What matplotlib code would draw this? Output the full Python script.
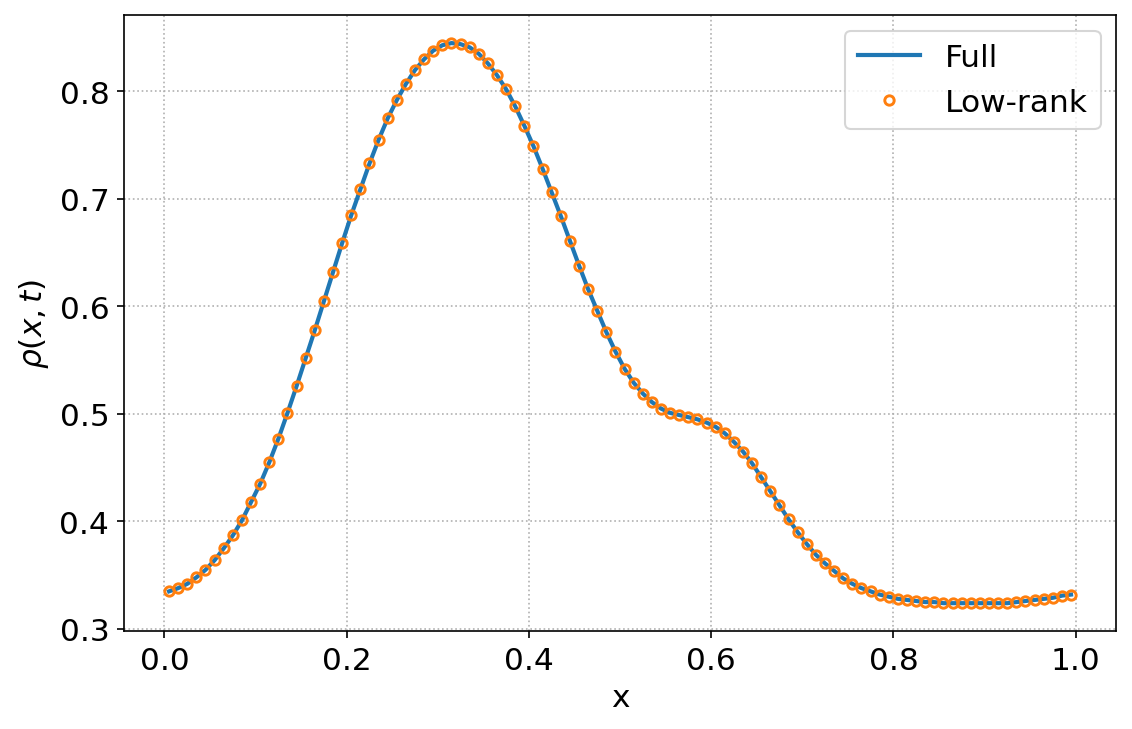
import numpy as np
import matplotlib
matplotlib.use('Agg')
import matplotlib.pyplot as plt

# grid points (cell centres) and density values
x = np.arange(100) * 0.01 + 0.005
rho = [
    0.335, 0.338, 0.342, 0.348, 0.355, 0.364, 0.375, 0.387, 0.401, 0.418,
    0.435, 0.455, 0.477, 0.501, 0.526, 0.552, 0.578, 0.605, 0.632, 0.659,
    0.685, 0.709, 0.733, 0.755, 0.775, 0.792, 0.807, 0.820, 0.830, 0.838,
    0.843, 0.845, 0.844, 0.841, 0.835, 0.826, 0.815, 0.802, 0.786, 0.768,
    0.749, 0.728, 0.706, 0.684, 0.661, 0.638, 0.616, 0.596, 0.576, 0.558,
    0.542, 0.529, 0.519, 0.511, 0.505, 0.501, 0.499, 0.497, 0.495, 0.492,
    0.488, 0.482, 0.474, 0.465, 0.454, 0.441, 0.428, 0.415, 0.402, 0.390,
    0.379, 0.369, 0.361, 0.354, 0.347, 0.342, 0.338, 0.335, 0.332, 0.330,
    0.328, 0.327, 0.326, 0.325, 0.325, 0.324, 0.324, 0.324, 0.324, 0.324,
    0.324, 0.324, 0.324, 0.325, 0.326, 0.327, 0.328, 0.329, 0.331, 0.332,
]

plt.rcParams['font.size'] = 15
fig, ax = plt.subplots(figsize=(1132 / 150, 730 / 150), dpi=150)
fig.subplots_adjust(left=0.1095, right=0.986, top=0.978, bottom=0.134)

ax.plot(x, rho, color='tab:blue', linewidth=2, label='Full')
ax.plot(x, rho, 'o', markerfacecolor='none', markeredgecolor='tab:orange',
        markersize=4.5, markeredgewidth=1.4, label='Low-rank')

ax.set_xlabel('x')
ax.set_ylabel(r'$\rho(x,t)$')
ax.grid(True, linestyle=':')
ax.legend(loc='upper right')

fig.savefig('out.png', dpi=150)
